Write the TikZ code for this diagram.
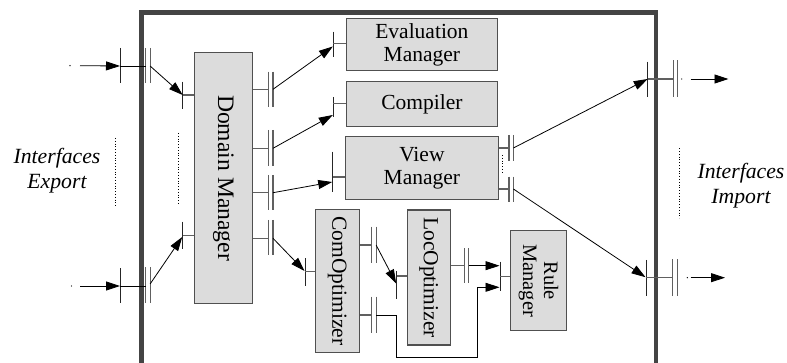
\documentclass[tikz,border=0pt]{standalone}
\usepackage{fontspec}
\setmainfont{Liberation Serif}
\usetikzlibrary{arrows.meta}
\definecolor{framecol}{HTML}{444444}
\definecolor{boxfill}{HTML}{DCDCDC}
\definecolor{boxline}{HTML}{505050}
\definecolor{stubcol}{HTML}{606060}
\tikzset{
  framesty/.style={draw=framecol,line width=4.5pt,line join=miter},
  box/.style={draw=boxline,fill=boxfill,line width=1.1pt,inner sep=0pt,align=center,
    font=\fontsize{21.5}{23}\selectfont},
  tbarsty/.style={draw=black!85,line width=0.9pt},
  dbarsty/.style={draw=stubcol,line width=1.1pt},
  stubsty/.style={draw=stubcol,line width=1.1pt},
  conn/.style={draw=black,line width=0.8pt,-{Triangle[length=14pt,width=9pt]}},
  plain/.style={draw=black,line width=0.8pt},
  dotsty/.style={draw=black,line width=0.8pt,dotted},
  lbl/.style={font=\itshape\fontsize{21.7}{25}\selectfont,align=center,inner sep=0pt},
}
\newcommand\tbar[3]{\draw[tbarsty] (#1,#2) -- (#1,#3);}
\newcommand\dbar[3]{\draw[dbarsty] (#1,#2) -- (#1,#3) (#1+4.4,#2) -- (#1+4.4,#3);}
\begin{document}
\begin{tikzpicture}[x=1pt,y=-1pt]
\useasboundingbox (0,0) rectangle (787,363);
% frame
\draw[framesty] (141.5,365) -- (141.5,12.5) -- (656,12.5) -- (656,365);
% boxes
\node[box,rotate=-90,minimum width=250.6pt,minimum height=58.2pt,font=\fontsize{23.6}{25}\selectfont] (dm) at (223.4,178) {Domain Manager};
\node[box,minimum width=151.7pt,minimum height=52.4pt] (ev) at (421.9,44.5) {Evaluation\\Manager};
\node[box,minimum width=151.7pt,minimum height=45pt] (cp) at (421.9,104.2) {Compiler};
\node[box,minimum width=152.8pt,minimum height=62.6pt] (vm) at (421.9,168) {View\\Manager};
\node[box,rotate=-90,minimum width=143.4pt,minimum height=44.3pt] (co) at (337.2,281) {ComOptimizer};
\node[box,rotate=-90,minimum width=135pt,minimum height=42.7pt] (lo) at (428.7,277.5) {LocOptimizer};
\node[box,rotate=-90,minimum width=100pt,minimum height=55.3pt,font=\fontsize{20.5}{21}\selectfont] (rm) at (538.4,280.7) {Rule\\Manager};
% labels
\node[lbl] (ie) at (57,171) {Interfaces\\Export};
\node[lbl] (ii) at (741,186) {Interfaces\\Import};
% ---- ports: T-bars (inputs) ----
\coordinate (eT1) at (120,66);   \tbar{120}{48}{83}
\coordinate (eT2) at (120,286);  \tbar{120}{268.3}{302.7}
\coordinate (dmI1) at (182.7,95);   \tbar{182.7}{81.7}{109.3}
\coordinate (dmI2) at (182.7,235.7); \tbar{182.7}{221.7}{249.3}
\coordinate (evI) at (333.3,43.3);  \tbar{333.3}{31.7}{57.3}
\coordinate (cpI) at (333.3,103.3); \tbar{333.3}{97}{117.3}
\coordinate (vmI) at (332.7,177);   \tbar{332.7}{151.7}{191.7}
\coordinate (coI) at (305,271.7);   \tbar{305}{258.3}{286}
\coordinate (loI) at (396.7,276);   \tbar{396.7}{271}{299.3}
\coordinate (rmI) at (500,276.7);   \tbar{500}{261.7}{290.7}
\coordinate (iT1) at (647.7,79);    \tbar{647.7}{61.7}{96.7}
\coordinate (iT2) at (646,277.7);   \tbar{646}{260}{295.7}
% stubs of inputs
\draw[stubsty] (dmI1) -- (dmI1 -| dm.south);
\draw[stubsty] (dmI2) -- (dmI2 -| dm.south);
\draw[stubsty] (evI) -- (evI -| ev.west);
\draw[stubsty] (cpI) -- (cpI -| cp.west);
\draw[stubsty] (vmI) -- (vmI -| vm.west);
\draw[stubsty] (coI) -- (coI -| co.south);
\draw[stubsty] (loI) -- (loI -| lo.south);
\draw[stubsty] (rmI) -- (rmI -| rm.south);
% ---- double bars (outputs) ----
\dbar{145.7}{48}{83}       \coordinate (eD1) at (150.1,66);
\dbar{145.7}{267.3}{302.7} \coordinate (eD2) at (150.1,284);
\dbar{268.6}{71.7}{106.7}  \coordinate (dmO1) at (273,89.3);
\dbar{268.6}{130}{166}     \coordinate (dmO2) at (273,148.3);
\dbar{268.6}{175}{210}     \coordinate (dmO3) at (273,192.7);
\dbar{268.6}{220}{255}     \coordinate (dmO4) at (273,238.3);
\dbar{509}{135}{160.7}     \coordinate (vmO1) at (513.4,148);
\dbar{509}{176.7}{201.7}   \coordinate (vmO2) at (513.4,189);
\dbar{371.7}{226.7}{262.7} \coordinate (coO1) at (376.1,245);
\dbar{371.7}{296.7}{333.3} \coordinate (coO2) at (376.1,315);
\dbar{464.3}{248.3}{283.3} \coordinate (loO) at (468.7,265.7);
\dbar{673.3}{60.3}{96.7}   \coordinate (iD1) at (677.7,79);
\dbar{672.7}{259.3}{295.7} \coordinate (iD2) at (677.1,277.7);
% stubs of outputs
\draw[plain] (eT1) -- (145.7,66);
\draw[plain] (eT2) -- (145.7,286);
\draw[stubsty] (dmO1 -| dm.north) -- (268.6,89.3);
\draw[stubsty] (dmO2 -| dm.north) -- (268.6,148.3);
\draw[stubsty] (dmO3 -| dm.north) -- (268.6,192.7);
\draw[stubsty] (dmO4 -| dm.north) -- (268.6,238.3);
\draw[stubsty] (vmO1 -| vm.east) -- (509,148);
\draw[stubsty] (vmO2 -| vm.east) -- (509,189);
\draw[stubsty] (coO1 -| co.north) -- (371.7,245);
\draw[stubsty] (coO2 -| co.north) -- (371.7,315);
\draw[stubsty] (loO -| lo.north) -- (464.3,265.7);
\draw[stubsty] (iT1) -- (673.3,79);
\draw[stubsty] (iT2) -- (672.7,277.7);
% ---- connectors ----
\coordinate (eS1) at (80,65.7);  \fill (70,65.7) circle (0.7pt);
\coordinate (eS2) at (80,286);   \fill (71.5,286) circle (0.7pt);
\draw[conn] (eS1) -- (eT1);
\draw[conn] (eS2) -- (eT2);
\draw[conn] (eD1) -- (dmI1);
\draw[conn] (eD2) -- (182.2,237);
\draw[conn] (dmO1) -- (332.8,46.5);
\draw[conn] (dmO2) -- (332.8,115);
\draw[conn] (dmO3) -- (332.2,182);
\draw[conn] (dmO4) -- (304.5,271);
\draw[conn] (vmO1) -- (iT1);
\draw[conn] (vmO2) -- (645.5,277.2);
\draw[conn] (coO1) -- (396.2,283.5);
\draw[conn] (coO2) -- (396.7,315) -- (396.7,357.3) -- (477.3,357.3) -- (477.3,287.3) -- (499.5,287.3);
\draw[conn] (loO) -- (499.5,265.7);
\fill (681.7,79) circle (0.7pt);   \coordinate (iE1) at (728.5,79);
\fill (687.3,277.7) circle (0.7pt); \coordinate (iE2) at (725,277.7);
\draw[conn] (690.7,79) -- (iE1);
\draw[conn] (690.5,277.7) -- (iE2);
% dotted lines
\draw[dotsty] (115,138) -- (115,206.7);
\draw[dotsty] (178.3,133) -- (178.3,205);
\draw[dotsty] (502.3,155) -- (502.3,173.3);
\draw[dotsty] (679.3,148.3) -- (679.3,218.3);
\end{tikzpicture}
\end{document}
